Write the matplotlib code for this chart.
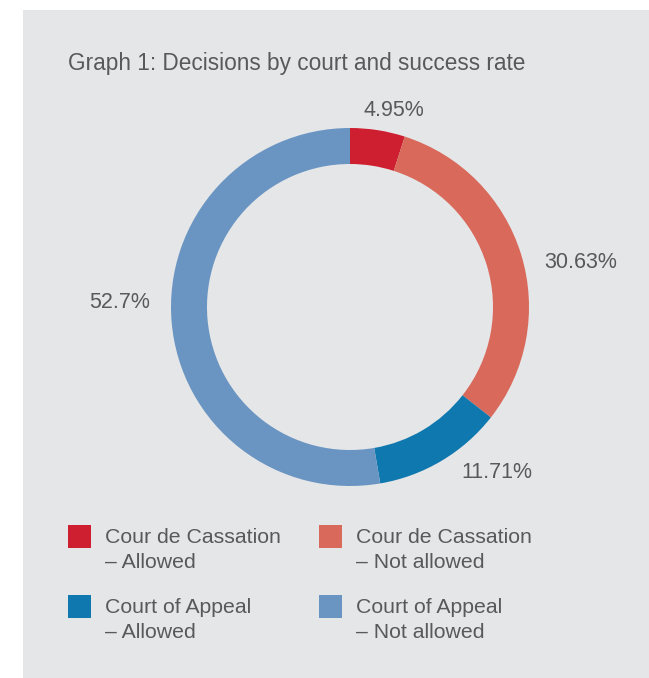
import matplotlib.pyplot as plt
from matplotlib.patches import Rectangle

W, H = 649, 678

# data
categories = ["Cour de Cassation – Allowed", "Cour de Cassation – Not allowed",
              "Court of Appeal – Allowed", "Court of Appeal – Not allowed"]
legend_lines = [("Cour de Cassation", "– Allowed"), ("Cour de Cassation", "– Not allowed"),
                ("Court of Appeal", "– Allowed"), ("Court of Appeal", "– Not allowed")]
shares = [4.95, 30.63, 11.71, 52.7]
labels = ["4.95%", "30.63%", "11.71%", "52.7%"]
colors = ["#CE1F30", "#D9695A", "#0F78AE", "#6A95C2"]

bg = "#E5E6E8"
txt = "#58595B"
plt.rcParams["font.family"] = ["Liberation Sans", "DejaVu Sans"]


def fx(x):
    return x / W


def fy(y):
    return 1 - y / H


fig = plt.figure(figsize=(W / 100, H / 100), dpi=100, facecolor="white")
fig.patches.append(Rectangle((fx(23), 0), 1 - fx(23), fy(10), transform=fig.transFigure,
                             facecolor=bg, edgecolor="none", zorder=-5))

fig.text(fx(68), fy(70), "Graph 1: Decisions by court and success rate",
         ha="left", va="baseline", fontsize=16.3, color=txt)

# ring
cx, cy, R, ring = 350, 307, 179, 36
ax = fig.add_axes([fx(cx - R), fy(cy + R), 2 * R / W, 2 * R / H])
ax.set_zorder(2)
ax.patch.set_visible(False)
ax.pie(shares, colors=colors, startangle=90, counterclock=False, radius=1,
       wedgeprops=dict(width=ring / R, edgecolor="none"))
ax.set_xlim(-1, 1)
ax.set_ylim(-1, 1)
ax.set_aspect("auto")
ax.axis("off")

# percentage labels (left edge, baseline) in pixels
label_pos = [(364, 116), (544, 268), (461, 478), (89, 308)]
for lab, (x, y) in zip(labels, label_pos):
    fig.text(fx(x), fy(y), lab, ha="left", va="baseline", fontsize=15.5, color=txt)

# legend
sq = 23
box_pos = [(68, 525), (319, 525), (68, 595), (319, 595)]
for (l1, l2), col, (x, y) in zip(legend_lines, colors, box_pos):
    fig.patches.append(Rectangle((fx(x), fy(y + sq)), sq / W, sq / H, transform=fig.transFigure,
                                 facecolor=col, edgecolor="none"))
    fig.text(fx(x + 37), fy(y + 18), l1, ha="left", va="baseline", fontsize=15.3, color=txt)
    fig.text(fx(x + 37), fy(y + 43), l2, ha="left", va="baseline", fontsize=15.3, color=txt)

fig.savefig("out.png", dpi=100, facecolor="white")
